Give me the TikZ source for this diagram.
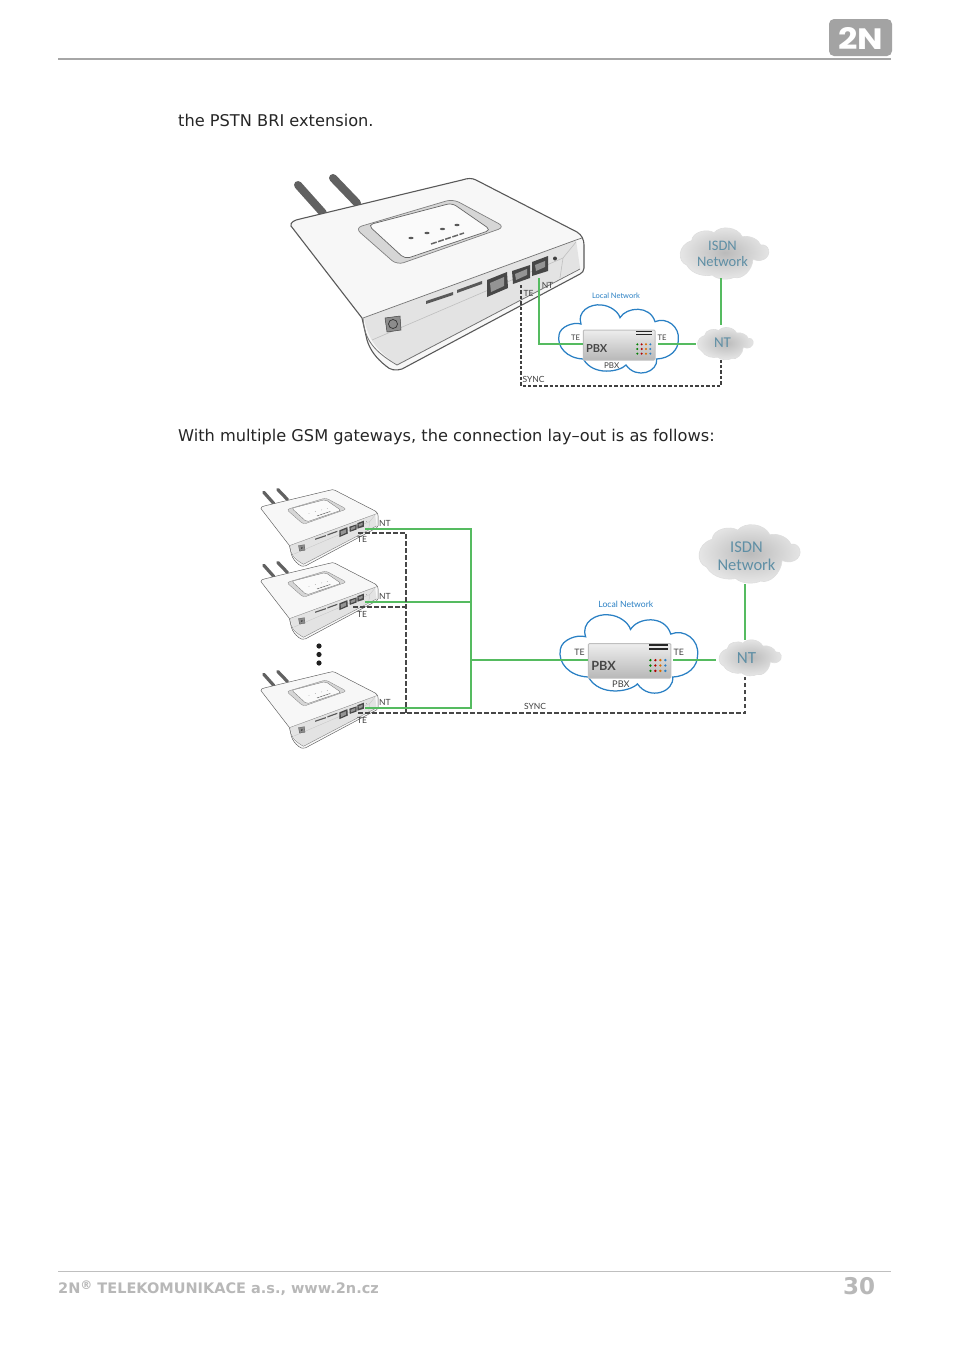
\documentclass[tikz,border=0pt]{standalone}
\usepackage{fontspec}
\setmainfont{DejaVu Sans}
\newfontfamily\dg{Lato}
\newfontfamily\cloudfont{Carlito}
\newfontfamily\logofont{Poppins}
\definecolor{grn}{HTML}{55BB60}
\definecolor{blu}{HTML}{2A80C4}
\definecolor{cldtxt}{HTML}{5F8FA5}
\definecolor{foot}{HTML}{B8B8B8}
\tikzset{
  body/.style={font=\fontsize{16.2}{20}\selectfont,text=black!85,anchor=base west,inner sep=0},
  lab/.style={font=\dg\fontsize{8.5}{9}\selectfont,text=black!75,inner sep=0},
  cldlab/.style={font=\cloudfont\fontsize{#1}{#1}\selectfont,text=cldtxt,inner sep=0,align=center},
  tr/.style={transform shape,inner sep=0},
  green wire/.style={draw=grn,line width=2.2pt},
  thin green/.style={draw=grn,line width=1.6pt},
  sync/.style={draw=black!75,line width=1.3pt,dash pattern=on 3.4pt off 2pt},
  sync wide/.style={draw=black!72,line width=1.5pt,dash pattern=on 4.5pt off 2.5pt},
}
% gray cloud in a normalised frame
\newcommand{\graycloud}[3]{%
 \begin{scope}[shift={(#1,#2)},scale=#3]
 \path[inner color=black!27,outer color=black!9,draw=black!13,line width=.6pt]
 (23,115) .. controls (-5,105) and (-5,55) .. (38,42)
 .. controls (40,15) and (85,5) .. (105,18)
 .. controls (125,-5) and (175,0) .. (190,30)
 .. controls (215,25) and (240,40) .. (245,55)
 .. controls (270,50) and (280,85) .. (255,98)
 .. controls (240,105) and (230,100) .. (222,98)
 .. controls (220,130) and (190,160) .. (165,152)
 .. controls (150,160) and (115,160) .. (100,145)
 .. controls (80,150) and (40,145) .. (23,115) -- cycle;
 \end{scope}}
% blue cloud and PBX box, in the frame of the first PBX crop
\newcommand{\pbxgroup}[1]{%
 \draw[blu,line width=1.25pt,fill=white]
 (213,327) .. controls (200,290) and (240,265) .. (275,270)
 .. controls (300,272) and (325,290) .. (330,308)
 .. controls (350,275) and (420,270) .. (435,320)
 .. controls (470,305) and (510,335) .. (505,375)
 .. controls (505,405) and (480,430) .. (440,432)
 .. controls (445,470) and (380,495) .. (348,450)
 .. controls (330,470) and (250,485) .. (220,432)
 .. controls (170,430) and (140,395) .. (147,360)
 .. controls (150,335) and (190,320) .. (213,327) -- cycle;
 \node[tr,text=blu,font=\dg\fontsize{22.5}{22}\selectfont] (#1local) at (318,243) {Local Network};
 \node[tr,font=\dg\fontsize{23}{21}\selectfont,text=black!75] (#1teleft) at (197,368) {TE};
 \node[tr,font=\dg\fontsize{23}{21}\selectfont,text=black!75] (#1teright) at (456,368) {TE};
 \node[tr,font=\dg\fontsize{24}{22}\selectfont,text=black!75] (#1pbxlab) at (305,452) {PBX};
 \node[tr,minimum width=215pt,minimum height=90pt,top color=black!7,bottom color=black!28,draw=black!25,line width=1pt,rounded corners=1pt] (#1pbx) at (327.5,390) {};
 \node[tr,font=\dg\bfseries\fontsize{33}{31}\selectfont,text=black!72] (#1pbxname) at (260,402) {PBX};
 \fill[black!85] (377,347) rectangle (427,352);
 \fill[black!85] (377,356) rectangle (427,361);
 \foreach \yy in {388,402,416}{
   \fill[green!50!black] (382,\yy) circle (3.4);
   \fill[red!70!black] (395,\yy) circle (3.4);
   \fill[orange!85!black] (408,\yy) circle (3.4);
   \fill[blu] (421,\yy) circle (3.4);
 }}
% gateway, drawn in the frame of the large one
\newcommand{\gatewayart}[2]{%
 \draw[black!62,line width=#2*8pt,line cap=round] (298,185) -- (323,213);
 \draw[black!62,line width=#2*8pt,line cap=round] (333,178) -- (357,203);
 \draw[black!65,line width=#2*1.1pt,fill=black!3]
 (291,226) .. controls (290,222) and (295,220) .. (300,219) -- (462,180)
 .. controls (468,178) and (472,178) .. (476,180) -- (577,232)
 .. controls (582,235) and (584,240) .. (584,245) -- (584,268)
 .. controls (584,271) and (582,273) .. (580,274) -- (402,369)
 .. controls (396,371) and (390,370) .. (386,366)
 .. controls (376,358) and (370,350) .. (367,340)
 -- (362,318) -- cycle;
 \fill[black!11] (364,318) -- (576,240) -- (580,268) -- (398,365)
 .. controls (378,352) and (368,340) .. (364,318) -- cycle;
 \draw[black!55,line width=#2*.8pt] (363,318) .. controls (364,340) and (375,352) .. (397,365) -- (580,269);
 \draw[black!55,line width=#2*.7pt] (363,318) -- (576,240) -- (582,238);
 \draw[black!25,line width=#2*.6pt] (372,340) -- (563,258) -- (576,242);
 \draw[black!25,line width=#2*.6pt] (563,258) -- (560,278);
 % top panel
 \fill[black!16,draw=black!50,line width=#2*.7pt,rounded corners=#2*7pt] (355,228) -- (453,199) -- (505,227) -- (397,265) -- cycle;
 \fill[black!2,draw=black!60,line width=#2*.7pt,rounded corners=#2*5pt] (368,225) -- (452,203) -- (491,230) -- (405,259) -- cycle;
 \foreach \xx/\yy in {411/238,427/233,442.5/229,457/225}{\fill[black!65] (\xx,\yy) ellipse (#2*2.6pt and #2*1.2pt);}
 \draw[black!60,line width=#2*1.5pt,dash pattern=on #2*6pt off #2*1.5pt] (431,244) -- (464,233);
 % ports
 \fill[black!45,draw=black!75,line width=#2*.5pt] (385,318) -- (400,316) -- (401,330) -- (387,332) -- cycle;
 \draw[black!80,line width=#2*.7pt] (393,324) circle (#2*4.5pt);
 \fill[black!65] (426,301) -- (453,292) -- (453,295) -- (426,304) -- cycle;
 \fill[black!65] (457,290) -- (482,281) -- (482,284) -- (457,293) -- cycle;
 \fill[black!72] (487,280) -- (507,272) -- (508,288) -- (487,297) -- cycle;
 \fill[black!72] (512,271) -- (530,265) -- (530,278) -- (513,284) -- cycle;
 \fill[black!72] (532,262) -- (548,256) -- (548,271) -- (532,276) -- cycle;
 \fill[black!42] (490,283) -- (504,277) -- (504,286) -- (491,292) -- cycle;
 \fill[black!42] (515,274) -- (527,269) -- (527,275) -- (516,280) -- cycle;
 \fill[black!42] (535,265) -- (545,261) -- (545,267) -- (536,271) -- cycle;
 \fill[black!75] (555,258.5) circle (#2*2pt);
 \coordinate (#1nt) at (539,278);
 \coordinate (#1te) at (521,285);
}
\begin{document}
\begin{tikzpicture}[x=1pt,y=-1pt]
\useasboundingbox (0,0) rectangle (954,1350);
\fill[white] (0,0) rectangle (954,1350);
% header
\draw[black!35,line width=1.6pt] (58,59) -- (891,59);
\node[fill=black!36,rounded corners=5pt,minimum width=63pt,minimum height=37pt,inner sep=0] (logoback) at (860.5,37.5) {};
\node[text=white,font=\logofont\bfseries\fontsize{29.5}{30}\selectfont,inner sep=0,transform shape,xscale=1.15] (logo) at (861,38) {2N};
% texts
\node[body] (t1) at (178,126) {the PSTN BRI extension.};
\node[body] (t2) at (178,441) {With multiple GSM gateways, the connection lay–out is as follows:};
% ---------- first diagram
\begin{scope}
 \gatewayart{g}{1}
\end{scope}
\begin{scope}[shift={(510,215)},scale=1/3]
 \pbxgroup{a}
\end{scope}
\graycloud{679}{226.7}{.3333}
\graycloud{696.7}{326.7}{.21}
\node[cldlab=14.5] (aisdn) at (722.5,253.5) {ISDN\\[1.5pt]Network};
\node[cldlab=15] (ant) at (722.5,343) {NT};
\node[lab] (gntl) at (547.5,285) {NT};
\node[lab] (gtel) at (528.5,293.5) {TE};
\node[lab] (async) at (533.5,379.5) {SYNC};
\coordinate (ac1) at (539,344);
\coordinate (ac2) at (521,386);
\coordinate (ac3) at (721,386);
\coordinate (antl) at (696,344);
\coordinate (ants) at (721,325);
\coordinate (antb) at (721,360);
\coordinate (aisdns) at (721,278);
\coordinate (apbxl) at (583,344);
\coordinate (apbxr) at (658,344);
\draw[thin green] (gnt) -- (ac1) -- (apbxl);
\draw[thin green] (apbxr) -- (antl);
\draw[thin green] (aisdns) -- (ants);
\draw[sync] (gte) -- (ac2) -- (ac3) -- (antb);
% ---------- second diagram
\begin{scope}[shift={(144.6,418.3)},scale=.4]
 \gatewayart{h}{.4}
\end{scope}
\begin{scope}[shift={(144.6,491.3)},scale=.4]
 \gatewayart{i}{.4}
\end{scope}
\begin{scope}[shift={(144.6,600.3)},scale=.4]
 \gatewayart{j}{.4}
\end{scope}
\fill[black!88] (319,646) circle (2.6) (319,654.5) circle (2.6) (319,663) circle (2.6);
\begin{scope}[shift={(504,511.4)},scale=1.15/3]
 \pbxgroup{b}
\end{scope}
\graycloud{697.7}{523.3}{.38}
\graycloud{718.3}{639}{.234}
\node[cldlab=16.5] (bisdn) at (746.5,556) {ISDN\\[2pt]Network};
\node[cldlab=17] (bnt) at (746.5,658.5) {NT};
\foreach \n/\yy in {h/523,i/596,j/702}{\node[lab] (\n ntl) at (385,\yy) {NT};}
\foreach \n/\yy in {h/539,i/614,j/720}{\node[lab] (\n tel) at (362,\yy) {TE};}
\node[lab] (bsync) at (535,706) {SYNC};
\coordinate (hg) at (365,529);
\coordinate (ig) at (365,602);
\coordinate (jg) at (365,708);
\coordinate (hd) at (358,533);
\coordinate (id) at (353,607);
\coordinate (jd) at (358,713);
\coordinate (bus1) at (471,529);
\coordinate (bus2) at (471,708);
\coordinate (bus3) at (471,602);
\coordinate (bus4) at (471,660);
\coordinate (bpl) at (588,660);
\coordinate (bpr) at (673,660);
\coordinate (bntl) at (716,660);
\coordinate (bnts) at (745,640);
\coordinate (bisdns) at (745,584);
\coordinate (dv1) at (406,533);
\coordinate (dv2) at (406,713);
\coordinate (dv3) at (406,607);
\coordinate (de) at (745,713);
\coordinate (dn) at (745,677);
\draw[green wire] (hg) -- (bus1) -- (bus2) -- (jg);
\draw[green wire] (ig) -- (bus3);
\draw[green wire] (bus4) -- (bpl);
\draw[green wire] (bpr) -- (bntl);
\draw[green wire] (bisdns) -- (bnts);
\draw[sync wide] (hd) -- (dv1) -- (dv2);
\draw[sync wide] (id) -- (dv3);
\draw[sync wide] (jd) -- (de) -- (dn);
% footer
\draw[black!25,line width=.8pt] (58,1271) -- (891,1271);
\node[anchor=base west,inner sep=0,text=foot,font=\bfseries\fontsize{14.5}{16}\selectfont] (foot1) at (58,1293.5) {2N\raisebox{4pt}{\fontsize{12}{12}\selectfont ®} TELEKOMUNIKACE a.s., www.2n.cz};
\node[anchor=base west,inner sep=0,text=foot,font=\bfseries\fontsize{23}{26}\selectfont] (foot2) at (843,1294) {30};
\end{tikzpicture}
\end{document}
